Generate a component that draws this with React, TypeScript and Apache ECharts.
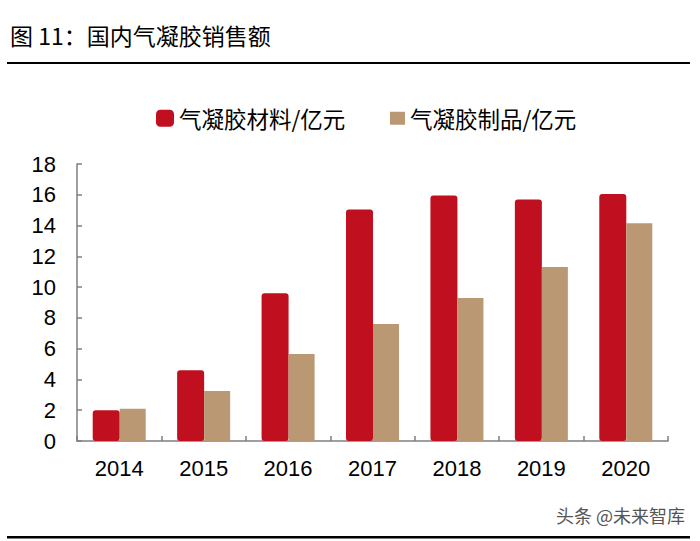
import React, { useEffect, useRef } from "react";
import * as echarts from "echarts";

const years = ["2014", "2015", "2016", "2017", "2018", "2019", "2020"];
const materials = [2.0, 4.6, 9.6, 15.05, 15.95, 15.7, 16.05];
const products = [2.1, 3.25, 5.65, 7.6, 9.3, 11.3, 14.15];
const seriesNames = ["气凝胶材料/亿元", "气凝胶制品/亿元"];
const titleText = "图 11：国内气凝胶销售额";
const watermark = "头条 @未来智库";

export default function App() {
  const ref = useRef<HTMLDivElement>(null);
  useEffect(() => {
    if (!ref.current) return;
    const chart = echarts.init(ref.current, undefined, { renderer: "svg" });
    const cjk = '"Noto Sans CJK SC", "Noto Sans", sans-serif';
    const latin = '"Liberation Sans", Arial, sans-serif';
    chart.setOption({
      animation: false,
      backgroundColor: "#ffffff",
      grid: { left: 77, right: 32, top: 164, bottom: 100, containLabel: false },
      legend: [
        {
          data: [seriesNames[0]],
          left: 156,
          top: 107,
          padding: 0,
          itemWidth: 18,
          itemHeight: 17,
          itemGap: 7,
          textStyle: { fontFamily: cjk, fontSize: 22.5, color: "#000" },
          icon: "roundRect",
        },
        {
          data: [seriesNames[1]],
          left: 390,
          top: 107,
          padding: 0,
          itemWidth: 15,
          itemHeight: 13,
          itemGap: 6,
          textStyle: { fontFamily: cjk, fontSize: 22.5, color: "#000" },
          icon: "rect",
        },
      ],
      xAxis: {
        type: "category",
        data: years,
        axisLine: { lineStyle: { color: "#7f7f7f", width: 1.5 } },
        axisTick: { show: true, inside: true, length: 5, lineStyle: { color: "#7f7f7f", width: 1.5 } },
        axisLabel: { fontFamily: latin, fontSize: 22, color: "#000", margin: 16 },
      },
      yAxis: {
        type: "value",
        min: 0,
        max: 18,
        interval: 2,
        splitLine: { show: false },
        axisLine: { show: true, lineStyle: { color: "#7f7f7f", width: 1.5 } },
        axisTick: { show: true, inside: true, length: 5, lineStyle: { color: "#7f7f7f", width: 1.5 } },
        axisLabel: { fontFamily: latin, fontSize: 22, color: "#000", margin: 21 },
      },
      series: [
        {
          name: seriesNames[0],
          type: "bar",
          data: materials,
          barWidth: 27,
          barGap: "0%",
          itemStyle: { color: "#C00F1E", borderRadius: 3 },
        },
        {
          name: seriesNames[1],
          type: "bar",
          data: products,
          barWidth: 26,
          barGap: "0%",
          itemStyle: { color: "#B99873" },
        },
      ],
      graphic: [
        {
          type: "text",
          left: 10,
          top: 23,
          style: { text: titleText, fontFamily: cjk, fontSize: 23, fill: "#000" },
        },
        {
          type: "rect",
          shape: { x: 7, y: 62, width: 683, height: 2 },
          style: { fill: "#000" },
        },
        {
          type: "rect",
          shape: { x: 7, y: 536, width: 683, height: 2.5 },
          style: { fill: "#000" },
        },
        {
          type: "text",
          left: 556,
          top: 506,
          style: { text: watermark, fontFamily: cjk, fontSize: 18, fill: "#555" },
        },
      ],
    });
    return () => chart.dispose();
  }, []);
  return (
    <div
      ref={ref}
      style={{ position: "absolute", left: 0, top: 0, width: 700, height: 541 }}
    />
  );
}
